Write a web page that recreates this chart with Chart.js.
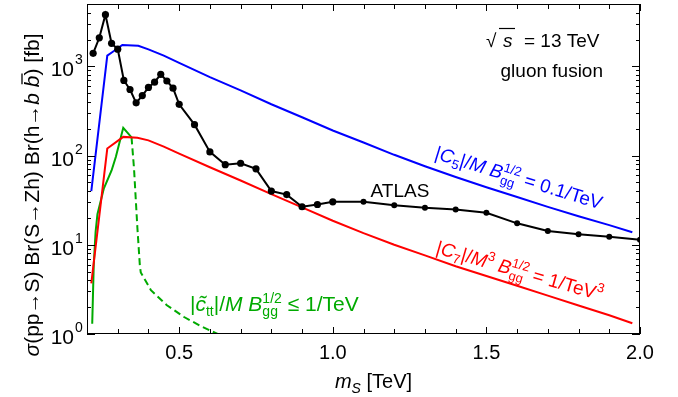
<!DOCTYPE html>
<html>
<head>
<meta charset="utf-8">
<script src="https://cdn.jsdelivr.net/npm/chart.js@4"></script>
<style>
	body { margin: 0; padding: 0; background: #fff; }
	canvas { display: block; }
</style>
</head>
<body>
<canvas id="myChart" width="678" height="397"></canvas>
<script>
// ATLAS limit (black dots)
const atlasMass = [0.22, 0.24, 0.26, 0.28, 0.30, 0.32, 0.34, 0.36, 0.38, 0.40, 0.42, 0.44, 0.46, 0.48, 0.50,
	0.55, 0.60, 0.65, 0.70, 0.75, 0.80, 0.85, 0.90, 0.95, 1.0, 1.1, 1.2, 1.3, 1.4, 1.5, 1.6, 1.7, 1.8, 1.9, 2.0];
const atlasXsec = [1400, 2090, 3800, 1810, 1560, 695, 550, 390, 470, 580, 665, 815, 685, 570, 375,
	222, 110, 79, 82, 71, 40, 36.5, 26.7, 28.3, 30.3, 30.3, 27.8, 26.0, 24.9, 22.9, 17.4, 14.3, 13.1, 12.3, 11.4];

// |C5|/M B^1/2 = 0.1/TeV (blue)
const c5Mass = [0.214, 0.266, 0.283, 0.315, 0.367, 0.4, 0.45, 0.5, 0.6, 0.7, 0.8, 0.9, 1.0,
	1.1, 1.2, 1.3, 1.4, 1.5, 1.6, 1.7, 1.8, 1.9, 1.975];
const c5Xsec = [40, 1320, 1450, 1740, 1700, 1549, 1318, 1096, 759, 537, 376, 269, 191,
	140, 102, 76, 57.5, 44.2, 34.3, 26.6, 20.9, 16.6, 13.8];

// |C7|/M^3 B^1/2 = 1/TeV^3 (red)
const c7Mass = [0.214, 0.266, 0.318, 0.364, 0.4, 0.45, 0.5, 0.6, 0.7, 0.8, 0.9, 1.0,
	1.1, 1.2, 1.3, 1.4, 1.5, 1.6, 1.7, 1.8, 1.9, 1.975];
const c7Xsec = [3.7, 120, 162, 158, 148, 126, 105, 74, 52.5, 37, 26.3, 18.6,
	13.5, 10, 7.6, 5.75, 4.47, 3.47, 2.69, 2.09, 1.62, 1.32];

// |c_tt|/M B^1/2 <= 1/TeV (green, solid part then dashed part)
const cttMass = [0.217, 0.222, 0.228, 0.234, 0.255, 0.28, 0.294, 0.318, 0.345];
const cttXsec = [1.3, 6, 14, 22, 43, 68, 97, 205, 160];
const cttDashMass = [0.345, 0.353, 0.364, 0.372, 0.375, 0.408, 0.46, 0.516, 0.57, 0.625];
const cttDashXsec = [160, 72, 15.5, 5.9, 4.9, 3.1, 2.1, 1.55, 1.23, 1.0];

// axis ticks
const xTickLabels = ["0.5", "1.0", "1.5", "2.0"];
const yTickExponents = [0, 1, 2, 3];

const FONT = "'Liberation Sans', Arial, sans-serif";
const GREEN = "rgb(0,170,0)";

function toPoints(xs, ys) {
	return xs.map((x, i) => ({ x: x, y: ys[i] }));
}

// runs of text with mixed fonts: {t, font, dy} or stacked {sup, sub, font}
function runWidth(ctx, r) {
	ctx.font = r.font;
	if (r.sup !== undefined) {
		return Math.max(ctx.measureText(r.sup).width, ctx.measureText(r.sub).width);
	}
	return ctx.measureText(r.t).width;
}

function drawRuns(ctx, runs, x, y, align) {
	const total = runs.reduce((s, r) => s + runWidth(ctx, r), 0);
	let cx = align === "center" ? x - total / 2 : x;
	ctx.textAlign = "left";
	ctx.textBaseline = "alphabetic";
	for (const r of runs) {
		const w = runWidth(ctx, r);
		ctx.font = r.font;
		if (r.sup !== undefined) {
			ctx.fillText(r.sup, cx, y - 8);
			ctx.fillText(r.sub, cx, y + 5);
		} else {
			ctx.fillText(r.t, cx, y + (r.dy || 0));
			if (r.bar) {
				ctx.save();
				ctx.strokeStyle = ctx.fillStyle;
				ctx.lineWidth = 1.3;
				ctx.beginPath();
				ctx.moveTo(cx + 3, y + r.bar);
				ctx.lineTo(cx + w + 2, y + r.bar);
				ctx.stroke();
				ctx.restore();
			}
		}
		cx += w;
	}
}

const it = (px) => "italic " + px + "px " + FONT;
const up = (px) => px + "px " + FONT;

const framePlugin = {
	id: "frame",
	afterDraw(chart) {
		const ctx = chart.ctx;
		const a = chart.chartArea;
		const xs = chart.scales.x;
		const ys = chart.scales.y;
		ctx.save();

		// box
		ctx.strokeStyle = "#000";
		ctx.lineWidth = 1;
		ctx.strokeRect(a.left + 0.5, a.top + 0.5, a.right - a.left - 1, a.bottom - a.top - 1);

		// x ticks every 0.1 on bottom and top
		ctx.beginPath();
		for (let i = 2; i <= 20; i++) {
			const px = Math.round(xs.getPixelForValue(i / 10)) + 0.5;
			const len = i % 5 === 0 ? 7 : 5;
			ctx.moveTo(px, a.bottom);
			ctx.lineTo(px, a.bottom - len);
			ctx.moveTo(px, a.top);
			ctx.lineTo(px, a.top + len);
		}
		// y ticks 1..9 per decade on left and right
		for (const e of yTickExponents) {
			for (let k = 1; k <= 9; k++) {
				const v = k * Math.pow(10, e);
				if (v > ys.max) break;
				const py = Math.round(ys.getPixelForValue(v)) + 0.5;
				const len = k === 1 ? 8 : 4;
				ctx.moveTo(a.left, py);
				ctx.lineTo(a.left + len, py);
				ctx.moveTo(a.right, py);
				ctx.lineTo(a.right - len, py);
			}
		}
		ctx.stroke();

		// tick labels
		ctx.fillStyle = "#000";
		ctx.font = up(20);
		ctx.textAlign = "center";
		ctx.textBaseline = "top";
		for (const lab of xTickLabels) {
			ctx.fillText(lab, xs.getPixelForValue(parseFloat(lab)), a.bottom + 9);
		}
		for (const e of yTickExponents) {
			const py = ys.getPixelForValue(Math.pow(10, e));
			ctx.font = up(21);
			ctx.textAlign = "right";
			ctx.textBaseline = "alphabetic";
			ctx.fillText("10", a.left - 13, py + 10);
			ctx.font = up(14);
			ctx.textAlign = "left";
			ctx.fillText(String(e), a.left - 12, py - 2);
		}

		// axis titles
		ctx.fillStyle = "#000";
		drawRuns(ctx, [
			{ t: "m", font: it(20) },
			{ t: "S", font: it(14), dy: 5 },
			{ t: " [TeV]", font: up(20) }
		], (a.left + a.right) / 2 + 10, 388, "center");

		ctx.save();
		ctx.translate(39, 195);
		ctx.rotate(-Math.PI / 2);
		drawRuns(ctx, [
			{ t: "\u03c3", font: it(21) },
			{ t: "(pp\u2192S) Br(S\u2192Zh) Br(h\u2192", font: up(21) },
			{ t: "b ", font: it(21) },
			{ t: "b", font: it(21), bar: -17 },
			{ t: ") [fb]", font: up(21) }
		], 0, 0, "center");
		ctx.restore();

		// annotations
		ctx.fillStyle = "#000";
		ctx.font = up(19);
		ctx.textAlign = "left";
		ctx.fillText("\u221a", 486, 47);
		ctx.font = it(19);
		ctx.fillText("s", 503, 47);
		ctx.lineWidth = 1.2;
		ctx.beginPath();
		ctx.moveTo(499, 28.5);
		ctx.lineTo(515, 28.5);
		ctx.stroke();
		ctx.font = up(19);
		ctx.fillText("= 13 TeV", 524, 47);
		ctx.textAlign = "right";
		ctx.fillText("gluon fusion", 603, 77);
		ctx.textAlign = "center";
		ctx.fillText("ATLAS", 400, 197);

		// blue label along the C5 curve
		ctx.save();
		ctx.fillStyle = "#0000ff";
		ctx.translate(517, 184);
		ctx.rotate(17 * Math.PI / 180);
		drawRuns(ctx, [
			{ t: "|", font: up(19) },
			{ t: "C", font: it(19) },
			{ t: "5", font: up(13), dy: 4 },
			{ t: "|/", font: up(19) },
			{ t: "M B", font: it(19) },
			{ sup: "1/2", sub: "gg", font: up(13) },
			{ t: " = 0.1/TeV", font: up(19) }
		], 0, 0, "center");
		ctx.restore();

		// red label along the C7 curve
		ctx.save();
		ctx.fillStyle = "#ff0000";
		ctx.translate(518, 277);
		ctx.rotate(16 * Math.PI / 180);
		drawRuns(ctx, [
			{ t: "|", font: up(19) },
			{ t: "C", font: it(19) },
			{ t: "7", font: up(13), dy: 4 },
			{ t: "|/", font: up(19) },
			{ t: "M", font: it(19) },
			{ t: "3", font: up(13), dy: -8 },
			{ t: " B", font: it(19) },
			{ sup: "1/2", sub: "gg", font: up(13) },
			{ t: " = 1/TeV", font: up(19) },
			{ t: "3", font: up(13), dy: -8 }
		], 0, 0, "center");
		ctx.restore();

		// green label
		ctx.fillStyle = GREEN;
		drawRuns(ctx, [
			{ t: "|", font: up(21) },
			{ t: "c\u0303", font: it(21) },
			{ t: "tt", font: up(14), dy: 5 },
			{ t: "|/", font: up(21) },
			{ t: "M B", font: it(21) },
			{ sup: "1/2", sub: "gg", font: up(14) },
			{ t: " \u2264 1/TeV", font: up(21) }
		], 190, 311, "left");

		ctx.restore();
	}
};

const ctx = document.getElementById("myChart").getContext("2d");
new Chart(ctx, {
	type: "line",
	data: {
		datasets: [
			{
				label: "ATLAS",
				data: toPoints(atlasMass, atlasXsec),
				borderColor: "#000",
				backgroundColor: "#000",
				borderWidth: 2,
				pointRadius: (c) => (c.raw && c.raw.x > 1.05 ? 3 : 3.6),
				pointBorderWidth: 0,
				order: 0
			},
			{
				label: "C5",
				data: toPoints(c5Mass, c5Xsec),
				borderColor: "#0000ff",
				borderWidth: 2,
				pointRadius: 0,
				order: 1
			},
			{
				label: "C7",
				data: toPoints(c7Mass, c7Xsec),
				borderColor: "#ff0000",
				borderWidth: 2,
				pointRadius: 0,
				order: 2
			},
			{
				label: "ctt",
				data: toPoints(cttMass, cttXsec),
				borderColor: GREEN,
				borderWidth: 2,
				pointRadius: 0,
				order: 3
			},
			{
				label: "ctt dashed",
				data: toPoints(cttDashMass, cttDashXsec),
				borderColor: GREEN,
				borderWidth: 2,
				borderDash: [7, 4],
				pointRadius: 0,
				order: 3
			}
		]
	},
	options: {
		responsive: false,
		animation: false,
		layout: { padding: { left: 0, right: 38, top: 3, bottom: 0 } },
		plugins: { legend: { display: false }, tooltip: { enabled: false } },
		scales: {
			x: {
				type: "linear",
				min: 0.2,
				max: 2.0,
				grid: { display: false },
				border: { display: false },
				ticks: { display: false },
				afterFit: (s) => { s.height = 63; }
			},
			y: {
				type: "logarithmic",
				min: 1,
				max: 5000,
				grid: { display: false },
				border: { display: false },
				ticks: { display: false },
				afterFit: (s) => { s.width = 87; }
			}
		}
	},
	plugins: [framePlugin]
});
</script>
</body>
</html>
